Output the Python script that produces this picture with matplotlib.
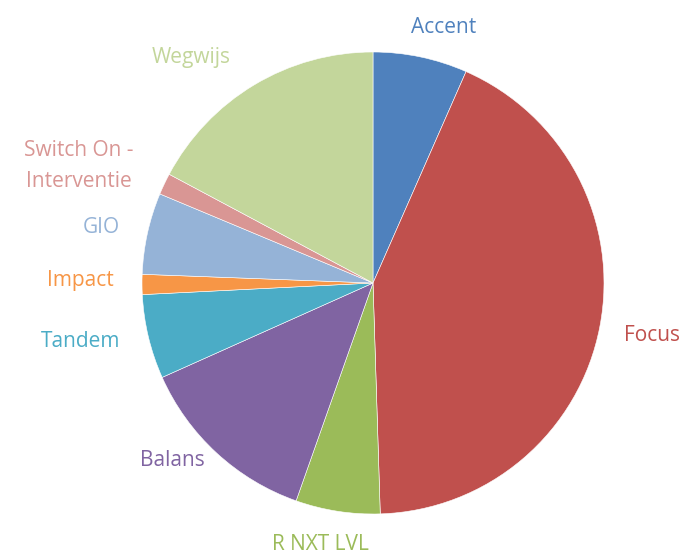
import matplotlib
matplotlib.use("Agg")
import matplotlib.pyplot as plt

labels = ["Accent", "Focus", "R NXT LVL", "Balans", "Tandem", "Impact", "GIO",
          "Switch On -\nInterventie", "Wegwijs"]
values = [6.6, 42.9, 5.9, 12.9, 5.9, 1.4, 5.7, 1.5, 17.2]
colors = ["#4F81BD", "#C0504D", "#9BBB59", "#8064A2", "#4BACC6", "#F79646",
          "#95B3D7", "#D99694", "#C3D69B"]

# label centres, in axes fractions (layout only)
label_pos = [(0.636, 0.950), (0.935, 0.396), (0.460, 0.020), (0.247, 0.171),
             (0.115, 0.385), (0.116, 0.496), (0.146, 0.590), (0.113, 0.701),
             (0.274, 0.897)]

plt.rcParams['font.family'] = ['Open Sans', 'DejaVu Sans']

fig = plt.figure(figsize=(6.97, 5.56), dpi=100)
ax = fig.add_axes([0, 0, 1, 1])
R = 231.0
cx, cy = 373.0, 283.0

wedges, _ = ax.pie(values, colors=colors, startangle=90, counterclock=False,
                   wedgeprops=dict(linewidth=0.4, edgecolor='white'))
ax.set_xlim(-cx / R, (697 - cx) / R)
ax.set_ylim(-(556 - cy) / R, cy / R)
ax.set_aspect('auto')
ax.axis('off')

for lab, c, (fx, fy) in zip(labels, colors, label_pos):
    ax.text(fx, fy, lab, transform=ax.transAxes, color=c, fontsize=15,
            fontweight='medium', ha='center', va='center',
            multialignment='center', linespacing=1.6)

fig.savefig("out.png", dpi=100, facecolor='white')
